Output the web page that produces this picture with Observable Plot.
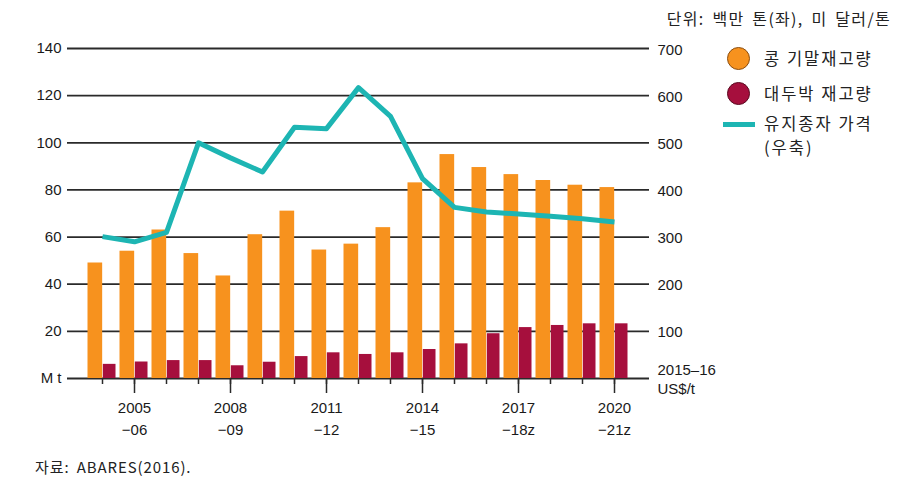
<!DOCTYPE html>
<html>
<head>
<meta charset="utf-8">
<script src="https://cdn.jsdelivr.net/npm/d3@7"></script>
<script src="https://cdn.jsdelivr.net/npm/@observablehq/plot@0.6"></script>
<style>
  html, body { margin: 0; padding: 0; background: #fff; }
  body { font-family: "Liberation Sans", "Noto Sans CJK KR", sans-serif; }
  #wrap { position: relative; width: 899px; height: 486px; overflow: hidden; }
  #chart { position: absolute; left: 0; top: 0; }
  .unit { position: absolute; right: 8px; top: 6px; font-size: 16px; color: #222; font-family: "Noto Sans CJK KR", sans-serif; letter-spacing: 1.3px; word-spacing: 3px; white-space: nowrap; }
  .legend { position: absolute; left: 727px; top: 46px; font-family: "Noto Sans CJK KR", sans-serif; font-size: 16.5px; color: #222; }
  .item { position: relative; height: 35px; }
  .sw { position: absolute; left: 0; width: 23px; height: 23px; border-radius: 50%; box-sizing: border-box; }
  .txt { position: absolute; left: 37px; line-height: 20px; white-space: nowrap; letter-spacing: 2px; }
  .caption { position: absolute; left: 35px; top: 456px; font-size: 15px; color: #222; font-family: "Noto Sans CJK KR", sans-serif; letter-spacing: 0.9px; word-spacing: 3px; }
</style>
</head>
<body>
<div id="wrap">
  <div id="chart"></div>
  <div class="unit">단위: 백만 톤(좌), 미 달러/톤</div>
  <div class="legend" id="legend"></div>
  <div class="caption">자료: ABARES(2016).</div>
</div>
<script>
// ---- data ----
const years = ["2004-05","2005-06","2006-07","2007-08","2008-09","2009-10","2010-11","2011-12","2012-13","2013-14","2014-15","2015-16","2016-17","2017-18","2018-19","2019-20","2020-21"];
const soybeanStocks = [49, 54, 63, 53, 43.5, 61, 71, 54.5, 57, 64, 83, 95, 89.5, 86.5, 84, 82, 81];
const mealStocks = [6, 7, 7.6, 7.6, 5.4, 6.9, 9.3, 10.9, 10.2, 10.9, 12.3, 14.7, 19, 21.6, 22.5, 23.2, 23.2];
const oilseedPrice = [301, 290, 310, 500, 468, 438, 533, 530, 617, 556, 424, 363, 353, 349, 344, 339, 332];
const labeledYears = ["2005-06","2008-09","2011-12","2014-15","2017-18","2020-21"];
const xTickLabels = ["2005\n−06","2008\n−09","2011\n−12","2014\n−15","2017\n−18z","2020\n−21z"];
const leftTicks = [0, 20, 40, 60, 80, 100, 120, 140];
const leftTickLabels = ["M t", "20", "40", "60", "80", "100", "120", "140"];
const rightTickLabels = ["2015–16\nUS$/t", "100", "200", "300", "400", "500", "600", "700"];
const seriesNames = ["콩 기말재고량", "대두박 재고량", "유지종자 가격\n(우축)"];
const colors = {orange: "#f7921e", red: "#a60f3d", teal: "#1db5b3"};
const priceToLeft = 5; // 700 US$/t on the right axis sits at 140 Mt on the left

const data = years.map((y, i) => ({year: y, soy: soybeanStocks[i], meal: mealStocks[i], price: oilseedPrice[i]}));

const W = 899, H = 486;
const marginLeft = 67, marginRight = 250, marginTop = 48, marginBottom = 108;
const pIn = 0.11, pOut = 0.59;
const step = (W - marginLeft - marginRight) / (years.length - pIn + 2 * pOut);
const bw = step * (1 - pIn);
const half = bw / 2;

const font = "Liberation Sans, Noto Sans CJK KR, sans-serif";

const chart = Plot.plot({
  width: W, height: H,
  marginLeft, marginRight, marginTop, marginBottom,
  style: {fontFamily: font, fontSize: "15px", color: "#1a1a1a", background: "transparent"},
  x: {type: "band", domain: years, paddingInner: pIn, paddingOuter: pOut, align: 0.5, axis: null},
  y: {domain: [0, 140], axis: null},
  marks: [
    Plot.ruleY(leftTicks, {stroke: "#2a2a2a", strokeWidth: 1.8}),
    Plot.barY(data, {x: "year", y: "soy", fill: colors.orange, insetRight: half - 0.5, insetLeft: -0.5}),
    Plot.barY(data, {x: "year", y: "meal", fill: colors.red, insetLeft: half + 0.5, insetRight: 0.5}),
    Plot.line(data, {x: "year", y: d => d.price / priceToLeft, stroke: colors.teal, strokeWidth: 5, strokeLinejoin: "round", strokeLinecap: "butt"}),
    Plot.axisY({ticks: leftTicks, anchor: "left", tickSize: 0, tickPadding: 6,
      tickFormat: d => leftTickLabels[leftTicks.indexOf(d)], fontSize: 15, label: null}),
    Plot.axisY({ticks: leftTicks, anchor: "right", tickSize: 0, tickPadding: 8, textAnchor: "start",
      tickFormat: d => rightTickLabels[leftTicks.indexOf(d)], fontSize: 15, lineHeight: 1.25, label: null}),
    Plot.axisX({ticks: years, tickSize: 6, tickFormat: () => "", stroke: "#2a2a2a", strokeWidth: 1.5, label: null}),
    Plot.axisX({ticks: labeledYears, tickSize: 15, tickPadding: 4, stroke: "#2a2a2a", strokeWidth: 1.5,
      tickFormat: d => xTickLabels[labeledYears.indexOf(d)], fontSize: 15, lineHeight: 1.45, label: null})
  ]
});
document.getElementById("chart").appendChild(chart);

// ---- legend ----
const legend = document.getElementById("legend");
const sw = [
  `<div class="sw" style="top:1px;background:${colors.orange};border:1.5px solid #8a4d10"></div>`,
  `<div class="sw" style="top:1px;background:${colors.red};border:1.5px solid #5a0a20"></div>`,
  `<div class="sw" style="top:6px;left:-4px;width:32px;height:5px;border-radius:0;background:${colors.teal}"></div>`
];
seriesNames.forEach((name, i) => {
  const item = document.createElement("div");
  item.className = "item";
  const lines = name.split("\n");
  item.innerHTML = sw[i] + lines.map((ln, j) =>
    `<div class="txt" style="top:${(i===2?-3:2) + j*24}px">${ln}</div>`).join("");
  legend.appendChild(item);
});
</script>
</body>
</html>
